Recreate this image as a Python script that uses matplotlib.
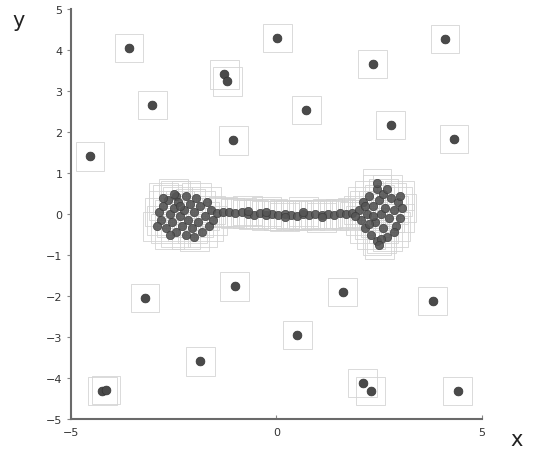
import numpy as np
import matplotlib.pyplot as plt
from matplotlib.patches import Rectangle

# scattered points
outer_x = [-3.59, -3.02, -4.54, 0.02, 4.10, 2.34, -1.27, -1.20, 0.73, 2.78,
           -1.05, 4.32, -3.20, -1.02, 1.61, 3.80, 0.51, -1.85, -4.24, -4.15,
           2.10, 2.29, 4.41]
outer_y = [4.05, 2.66, 1.41, 4.29, 4.27, 3.66, 3.41, 3.24, 2.54, 2.17,
           1.80, 1.83, -2.05, -1.76, -1.90, -2.12, -2.95, -3.59, -4.32, -4.29,
           -4.12, -4.32, -4.32]

# the dumbbell: left blob, bar, right blob
left_x = [-2.85, -2.80, -2.75, -2.70, -2.65, -2.60, -2.55, -2.50, -2.45, -2.45,
          -2.40, -2.35, -2.30, -2.25, -2.20, -2.20, -2.15, -2.10, -2.05, -2.00,
          -1.95, -1.90, -1.85, -1.80, -1.75, -1.70, -1.65, -1.60, -2.60, -2.90,
          -2.50, -2.00, -1.55, -2.75, -2.35]
left_y = [0.05, -0.15, 0.20, -0.35, 0.35, 0.00, -0.20, 0.15, -0.45, 0.45,
          0.30, -0.05, -0.30, 0.10, 0.45, -0.50, -0.15, 0.25, -0.35, 0.05,
          0.40, -0.20, 0.20, -0.45, -0.05, 0.30, -0.30, 0.10, -0.50, -0.30,
          0.50, -0.55, -0.15, 0.40, 0.20]

bar_x = [-1.45, -1.30, -1.15, -1.00, -0.85, -0.70, -0.55, -0.40, -0.25, -0.10,
         0.05, 0.20, 0.35, 0.50, 0.65, 0.80, 0.95, 1.10, 1.25, 1.40,
         1.55, 1.70, 1.85, -0.70, -0.25, 0.20, 0.65, 1.10]
bar_y = [0.03, 0.06, 0.04, 0.02, 0.05, 0.00, -0.02, 0.02, -0.03, 0.01,
         -0.03, 0.00, -0.02, -0.04, -0.01, -0.03, 0.00, -0.02, 0.01, -0.03,
         0.02, -0.01, 0.03, 0.08, 0.06, -0.07, 0.06, -0.08]

right_x = [2.00, 2.05, 2.10, 2.15, 2.20, 2.25, 2.30, 2.35, 2.40, 2.45,
           2.45, 2.50, 2.55, 2.60, 2.60, 2.65, 2.70, 2.75, 2.80, 2.85,
           2.90, 2.95, 3.00, 3.05, 2.35, 2.55, 2.70, 2.25, 2.85, 1.90,
           2.15, 3.00, 2.45, 2.50]
right_y = [0.10, -0.15, 0.30, -0.35, 0.00, 0.45, -0.50, 0.20, -0.20, 0.60,
           -0.65, 0.35, 0.00, -0.35, 0.50, 0.15, -0.55, -0.10, 0.40, 0.10,
           -0.30, 0.30, -0.10, 0.15, -0.05, -0.60, 0.60, -0.25, -0.45, -0.05,
           0.20, 0.45, 0.75, -0.75]

y_ticks = [-5, -4, -3, -2, -1, 0, 1, 2, 3, 4, 5]
x_ticks = [-5, 0, 5]

all_x = outer_x + left_x + bar_x + right_x
all_y = outer_y + left_y + bar_y + right_y

fig = plt.figure(figsize=(5.36, 4.56), dpi=100)
ax = fig.add_axes([0.1325, 0.079, 0.7665, 0.899])

# light box around every point
half = 0.35
for px, py in zip(all_x, all_y):
    ax.add_patch(Rectangle((px - half, py - half), 2 * half, 2 * half,
                           fill=False, edgecolor="#d4d4d4", linewidth=0.6,
                           zorder=1))

ax.scatter(outer_x, outer_y, s=40, color="#4a4a4a", edgecolors="#333333",
           linewidths=0.5, zorder=3)
ax.scatter(left_x + bar_x + right_x, left_y + bar_y + right_y, s=36,
           color="#555555", edgecolors="#3a3a3a", linewidths=0.5, alpha=0.9,
           zorder=3)

ax.set_xlim(-5, 5)
ax.set_ylim(-5, 5)
ax.set_xticks(x_ticks)
ax.set_yticks(y_ticks)
ax.set_xticklabels([str(t).replace("-", "\u2212") for t in x_ticks])
ax.set_yticklabels([str(t).replace("-", "\u2212") for t in y_ticks])

for s in ["top", "right"]:
    ax.spines[s].set_visible(False)
for s in ["left", "bottom"]:
    ax.spines[s].set_color("#6a6a6a")
    ax.spines[s].set_linewidth(1.5)
ax.tick_params(axis="x", direction="in", length=3, width=0.8,
               color="#888888", labelsize=8, labelcolor="#333333", pad=6)
ax.tick_params(axis="y", direction="out", length=3, width=0.8,
               color="#888888", labelsize=8, labelcolor="#333333", pad=3)

fig.text(0.035, 0.955, "y", fontsize=15, color="#222222",
         ha="center", va="center")
fig.text(0.963, 0.035, "x", fontsize=15, color="#222222",
         ha="center", va="center")

fig.savefig("out.png", dpi=100, facecolor="white")
